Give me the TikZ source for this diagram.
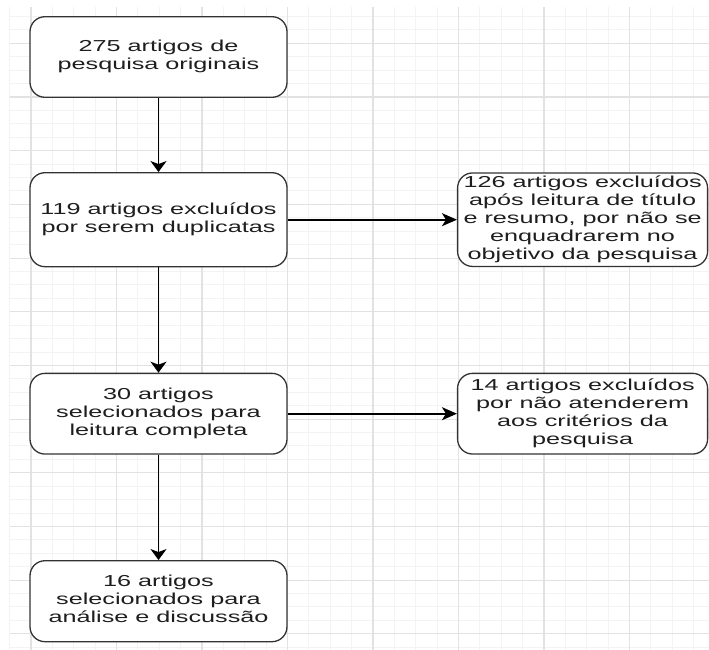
\documentclass[tikz,border=0pt]{standalone}
\usepackage{fontspec}
\setmainfont{Liberation Sans}
\usetikzlibrary{arrows.meta}
\newcommand\sqtext[1]{\scalebox{1}[0.63]{\begin{tabular}{@{}c@{}}#1\end{tabular}}}
\definecolor{gridminor}{HTML}{F3F3F3}
\definecolor{gridmajor}{HTML}{E2E2E2}
\definecolor{boxline}{HTML}{333333}
\definecolor{txt}{HTML}{1E1E1E}
\tikzset{
  flowbox/.style={draw=boxline, line width=1.3pt, rounded corners=15pt, fill=white,
    inner sep=0pt, text=txt, font=\fontsize{25.2}{28.8}\selectfont},
  vconn/.style={draw=black, line width=1.6pt, -{Stealth[length=11pt,width=16pt,inset=3pt]}},
  hconn/.style={draw=black, line width=1.6pt, -{Stealth[length=15pt,width=13pt,inset=4pt]}},
}
\begin{document}
\begin{tikzpicture}[x=1pt,y=-1pt]
\useasboundingbox (0,0) rectangle (709,650);
\fill[white] (0,0) rectangle (709,650);
% grid
\foreach \i in {0,...,32} {
  \pgfmathsetmacro\xx{9.6+21.375*\i}
  \draw[gridminor, line width=1pt] (\xx,7) -- (\xx,650);
}
\foreach \k in {0,...,47} {
  \pgfmathsetmacro\yy{16.5+13.42*\k}
  \draw[gridminor, line width=1pt] (9.6,\yy) -- (709,\yy);
}
\foreach \i in {1,5,...,29} {
  \pgfmathsetmacro\xx{9.6+21.375*\i}
  \draw[gridmajor, line width=1.1pt] (\xx,7) -- (\xx,650);
}
\foreach \k in {2,6,...,46} {
  \pgfmathsetmacro\yy{16.5+13.42*\k}
  \draw[gridmajor, line width=1.1pt] (9.6,\yy) -- (709,\yy);
}
% boxes
\node[flowbox, minimum width=257pt, minimum height=80.6pt] (A) at (158.5,57)
  {\sqtext{275 artigos de\\pesquisa originais}};
\node[flowbox, minimum width=257pt, minimum height=94pt] (B) at (158.5,219.7)
  {\sqtext{119 artigos excluídos\\por serem duplicatas}};
\node[flowbox, minimum width=257pt, minimum height=80.7pt] (C) at (158.5,413.7)
  {\sqtext{30 artigos\\selecionados para\\leitura completa}};
\node[flowbox, minimum width=257pt, minimum height=81pt] (D) at (158.5,601.2)
  {\sqtext{16 artigos\\selecionados para\\análise e discussão}};
\node[flowbox, minimum width=250pt, minimum height=93.5pt] (E) at (582.6,219.7)
  {\sqtext{126 artigos excluídos\\após leitura de título\\e resumo, por não se\\enquadrarem no\\objetivo da pesquisa}};
\node[flowbox, minimum width=250pt, minimum height=80.7pt] (F) at (582.6,413.7)
  {\sqtext{14 artigos excluídos\\por não atenderem\\aos critérios da\\pesquisa}};
% connectors
\draw[vconn] (A.south) -- (B.north);
\draw[vconn] (B.south) -- (C.north);
\draw[vconn] (C.south) -- (D.north);
\draw[hconn] (B.east) -- (E.west);
\draw[hconn] (C.east) -- (F.west);
\end{tikzpicture}
\end{document}
